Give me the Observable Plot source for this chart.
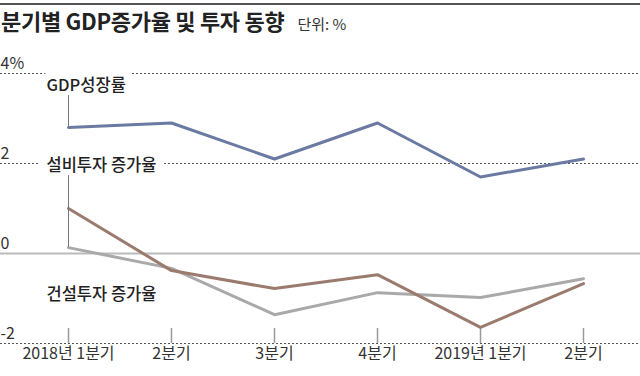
<!DOCTYPE html>
<html>
<head>
<meta charset="utf-8">
<script src="https://cdn.jsdelivr.net/npm/d3@7"></script>
<script src="https://cdn.jsdelivr.net/npm/@observablehq/plot@0.6"></script>
<style>
  html, body { margin: 0; padding: 0; background: #fff; }
  body { width: 640px; height: 376px; overflow: hidden; font-family: "Noto Sans CJK KR", sans-serif; }
  .header { position: relative; height: 48px; width: 640px; }
  .topline { position: absolute; left: 0; top: 3px; width: 640px; height: 2px; background: #555; }
  .title { position: absolute; left: 1px; top: 7px; font-size: 22px; line-height: 26px; font-weight: 700; color: #222; letter-spacing: -0.3px; white-space: nowrap; }
  .title .unit { font-size: 15px; font-weight: 400; color: #333; margin-left: 13px; letter-spacing: 0; }
  #chart svg { display: block; }
</style>
</head>
<body>
<div class="header">
  <div class="topline"></div>
  <div class="title">분기별 GDP증가율 및 투자 동향<span class="unit">단위: %</span></div>
</div>
<div id="chart"></div>
<script>
const quarters = ["2018Q1", "2018Q2", "2018Q3", "2018Q4", "2019Q1", "2019Q2"];
const quarterLabels = ["2018년 1분기", "2분기", "3분기", "4분기", "2019년 1분기", "2분기"];
const gdpGrowth = [2.8, 2.9, 2.1, 2.9, 1.7, 2.1];
const equipmentInvestment = [1.0, -0.38, -0.78, -0.47, -1.64, -0.67];
const constructionInvestment = [0.13, -0.33, -1.36, -0.87, -0.98, -0.56];
const yTicks = [4, 2, 0, -2];
const yTickLabels = ["4%", "2", "0", "-2"];
const seriesNames = ["GDP성장률", "설비투자 증가율", "건설투자 증가율"];
const seriesLabelY = [3.72, 1.96, -0.91];

const toRows = (vals) => quarters.map((q, i) => ({q, v: vals[i]}));
const gdpRows = toRows(gdpGrowth);
const eqRows = toRows(equipmentInvestment);
const conRows = toRows(constructionInvestment);
const labelRows = seriesNames.map((name, i) => ({name, q: quarters[0], v: seriesLabelY[i]}));
const leaderRows = [
  {q: quarters[0], y1: 3.51, y2: gdpGrowth[0]},
  {q: quarters[0], y1: 1.73, y2: constructionInvestment[0]}
];

const font = "Noto Sans CJK KR";
const chart = Plot.plot({
  width: 640,
  height: 328,
  marginTop: 25,
  marginBottom: 33,
  marginLeft: 67,
  marginRight: 56,
  style: {fontFamily: font, background: "white"},
  x: {type: "point", domain: quarters, padding: 0, axis: null},
  y: {domain: [-2, 4], axis: null},
  marks: [
    Plot.ruleY([4, 2, -2], {stroke: "#555", strokeWidth: 1, strokeDasharray: "2,2", insetLeft: -67, insetRight: -56}),
    Plot.ruleY([0], {stroke: "#bbb", strokeWidth: 2, insetLeft: -67, insetRight: -56}),
    Plot.ruleX(quarters, {x: d => d, y1: -2, y2: -1.667, stroke: "#999", strokeWidth: 1.5}),
    Plot.line(conRows, {x: "q", y: "v", stroke: "#a9a9a9", strokeWidth: 3}),
    Plot.line(eqRows, {x: "q", y: "v", stroke: "#9a7b6e", strokeWidth: 3}),
    Plot.line(gdpRows, {x: "q", y: "v", stroke: "#6a7aa2", strokeWidth: 3}),
    Plot.text(labelRows, {x: "q", y: "v", text: "name", textAnchor: "start", dx: -22, fontSize: 16.5, fontWeight: 500, fill: "#222", stroke: "white", strokeWidth: 16}),
    Plot.ruleX(leaderRows, {x: "q", y1: "y1", y2: "y2", stroke: "#777", strokeWidth: 1}),
    Plot.text(yTicks, {y: d => d, text: (d, i) => yTickLabels[i], frameAnchor: "left", dx: -67, dy: -10, textAnchor: "start", fontSize: 16, fill: "#333"}),
    Plot.text(quarters, {x: d => d, text: (d, i) => quarterLabels[i], frameAnchor: "bottom", dy: 15, fontSize: 16, fill: "#333"})
  ]
});
document.getElementById("chart").appendChild(chart);
</script>
</body>
</html>
